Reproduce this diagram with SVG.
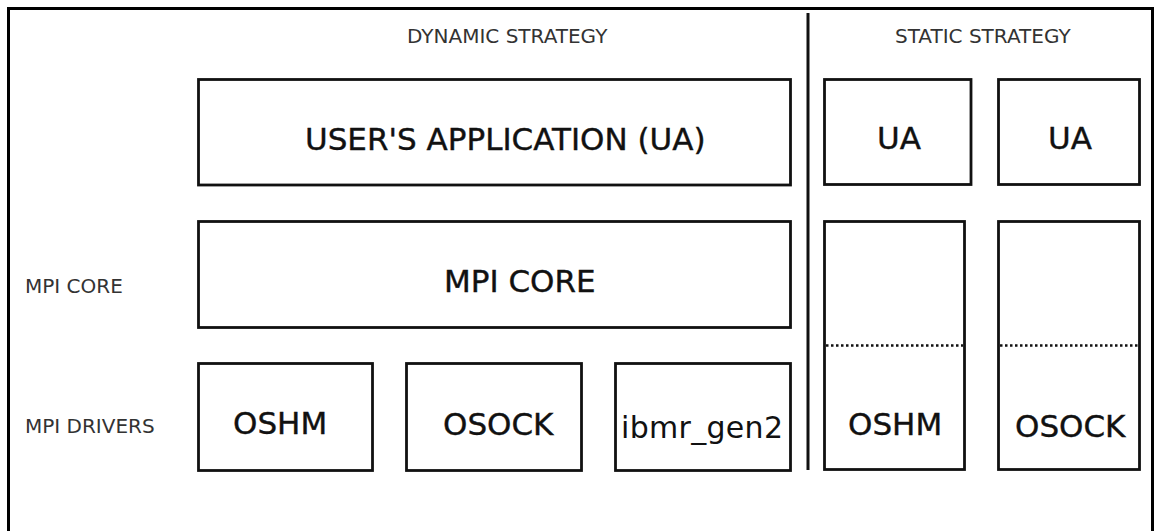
<svg xmlns="http://www.w3.org/2000/svg" width="1161" height="531" viewBox="0 0 1161 531">
<style>
.box{fill:#fff;stroke:#111;stroke-width:2.8}
.big{font-family:"DejaVu Sans",Verdana,sans-serif;font-size:31px;fill:#111;stroke:#111;stroke-width:0.4}
.small{font-family:"DejaVu Sans",Verdana,sans-serif;font-size:20px;fill:#333}
.gen{font-family:"DejaVu Sans",sans-serif;font-size:30px;fill:#111}
.dot{stroke:#111;stroke-width:2.5;stroke-dasharray:2.5 2.5;fill:none}
</style>
<rect width="1161" height="531" fill="#fff"/>
<rect x="8.5" y="8.5" width="1144" height="540" fill="none" stroke="#000" stroke-width="3"/>
<g id="labels">
<text class="small" x="407" y="43">DYNAMIC STRATEGY</text>
<text class="small" x="895" y="43">STATIC STRATEGY</text>
<text class="small" x="25" y="293">MPI CORE</text>
<text class="small" x="25" y="433">MPI DRIVERS</text>
</g>
<g id="connectors">
<line x1="808" y1="13" x2="808" y2="470" stroke="#111" stroke-width="3"/>
</g>
<g id="ua-dynamic">
<rect class="box" x="198.5" y="79.5" width="592" height="105.5"/>
<text class="big" x="305" y="150">USER'S APPLICATION (UA)</text>
</g>
<g id="mpicore-dynamic">
<rect class="box" x="198.5" y="221.5" width="592" height="106"/>
<text class="big" x="444" y="292">MPI CORE</text>
</g>
<g id="oshm-dynamic">
<rect class="box" x="198.5" y="363.5" width="174" height="107"/>
<text class="big" x="233" y="434">OSHM</text>
</g>
<g id="osock-dynamic">
<rect class="box" x="406.5" y="363.5" width="175" height="107"/>
<text class="big" x="443" y="435">OSOCK</text>
</g>
<g id="ibmr-dynamic">
<rect class="box" x="615.5" y="363.5" width="175" height="107"/>
<text class="gen" x="621" y="438" textLength="162">ibmr_gen2</text>
</g>
<g id="ua-static-1">
<rect class="box" x="824.5" y="79.5" width="146.5" height="105"/>
<text class="big" x="877" y="149">UA</text>
</g>
<g id="ua-static-2">
<rect class="box" x="998.5" y="79.5" width="141" height="105"/>
<text class="big" x="1048" y="149">UA</text>
</g>
<g id="oshm-static">
<rect class="box" x="824.5" y="221.5" width="140" height="248"/>
<line class="dot" x1="826" y1="345.5" x2="963" y2="345.5"/>
<text class="big" x="848" y="435">OSHM</text>
</g>
<g id="osock-static">
<rect class="box" x="998.5" y="221.5" width="141" height="248"/>
<line class="dot" x1="1000" y1="345.5" x2="1138" y2="345.5"/>
<text class="big" x="1015" y="437">OSOCK</text>
</g>
</svg>
